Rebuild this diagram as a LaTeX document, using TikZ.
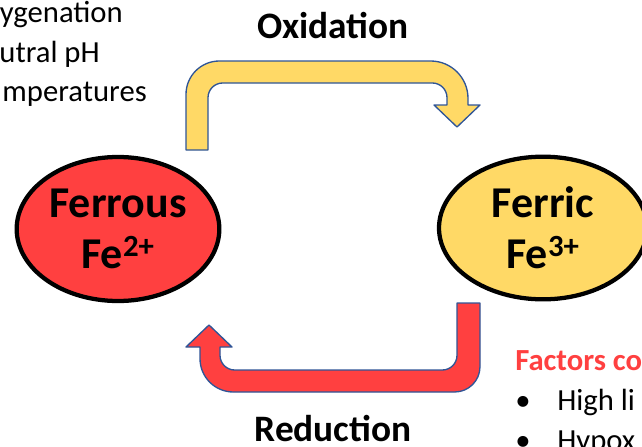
\documentclass[tikz,border=0pt]{standalone}
\usepackage{fontspec}
\setmainfont{Carlito}
\usepackage{tikz}
\usetikzlibrary{shapes.geometric}
\definecolor{ferrousred}{HTML}{FF4040}
\definecolor{ferricgold}{HTML}{FFD966}
\definecolor{arrowblue}{HTML}{2F5597}
\definecolor{factorred}{HTML}{FF4040}
\tikzset{
  ion/.style={
    ellipse,
    draw=black,
    line width=3.2pt,
    align=center,
    inner sep=0pt,
    font=\fontsize{33}{40.5}\selectfont\bfseries
  },
  blockarrow/.style={draw=arrowblue, line width=1pt, line join=round},
  steplabel/.style={anchor=base, font=\fontsize{28}{32}\selectfont\bfseries},
  sidetext/.style={anchor=base east, inner sep=0pt, font=\fontsize{23}{28}\selectfont},
  listtext/.style={anchor=base west, inner sep=0pt, font=\fontsize{23}{28}\selectfont}
}

\begin{document}
\begin{tikzpicture}[x=0.75pt,y=-0.75pt]
  \useasboundingbox (0,0) rectangle (642,446);
  \clip (0,0) rectangle (642,446);

  % the two iron states
  \node[ion, fill=ferrousred, minimum width=152pt, minimum height=108pt] (ferrous) at (118,229)
    {Ferrous\\[-2pt]Fe\textsuperscript{2+}};
  \node[ion, fill=ferricgold, minimum width=156pt, minimum height=107pt] (ferric) at (543,228)
    {Ferric\\[-2pt]Fe\textsuperscript{3+}};

  % oxidation arrow, over the top
  \draw[blockarrow, fill=ferricgold]
    (186,150) [rounded corners=25pt] -- (186,61) [rounded corners=28pt] -- (468,61)
    [sharp corners] -- (468,105) -- (480,105) -- (457,127) -- (434,105) -- (447,105)
    [rounded corners=11pt] -- (447,83) -- (208,83) [sharp corners] -- (208,150) -- cycle;

  % reduction arrow, underneath
  \draw[blockarrow, fill=ferrousred]
    (457,303) -- (480,303) [rounded corners=19pt] -- (480,392) [rounded corners=25pt] -- (200,392)
    [sharp corners] -- (200,347) -- (186,347) -- (209,325) -- (232,347) -- (220,347)
    [rounded corners=11pt] -- (220,370) -- (457,370) [sharp corners] -- cycle;

  \node[steplabel] (oxlabel) at (333,38) {Oxidation};
  \node[steplabel] (redlabel) at (333,441) {Reduction};

  % conditions on the left
  \node[sidetext] (oxa) at (123,22) {ygenation};
  \node[sidetext] (oxb) at (100,62) {utral pH};
  \node[sidetext] (oxc) at (147,101) {mperatures};

  % conditions on the right
  \node[listtext, text=factorred, font=\fontsize{23}{28}\selectfont\bfseries] (redhead) at (515,370) {Factors co};
  \node[listtext] (bula) at (515,410) {\textbullet};
  \node[listtext] (reda) at (557,410) {High li};
  \node[listtext] (bulb) at (515,450) {\textbullet};
  \node[listtext] (redb) at (557,450) {Hypox};
\end{tikzpicture}
\end{document}
